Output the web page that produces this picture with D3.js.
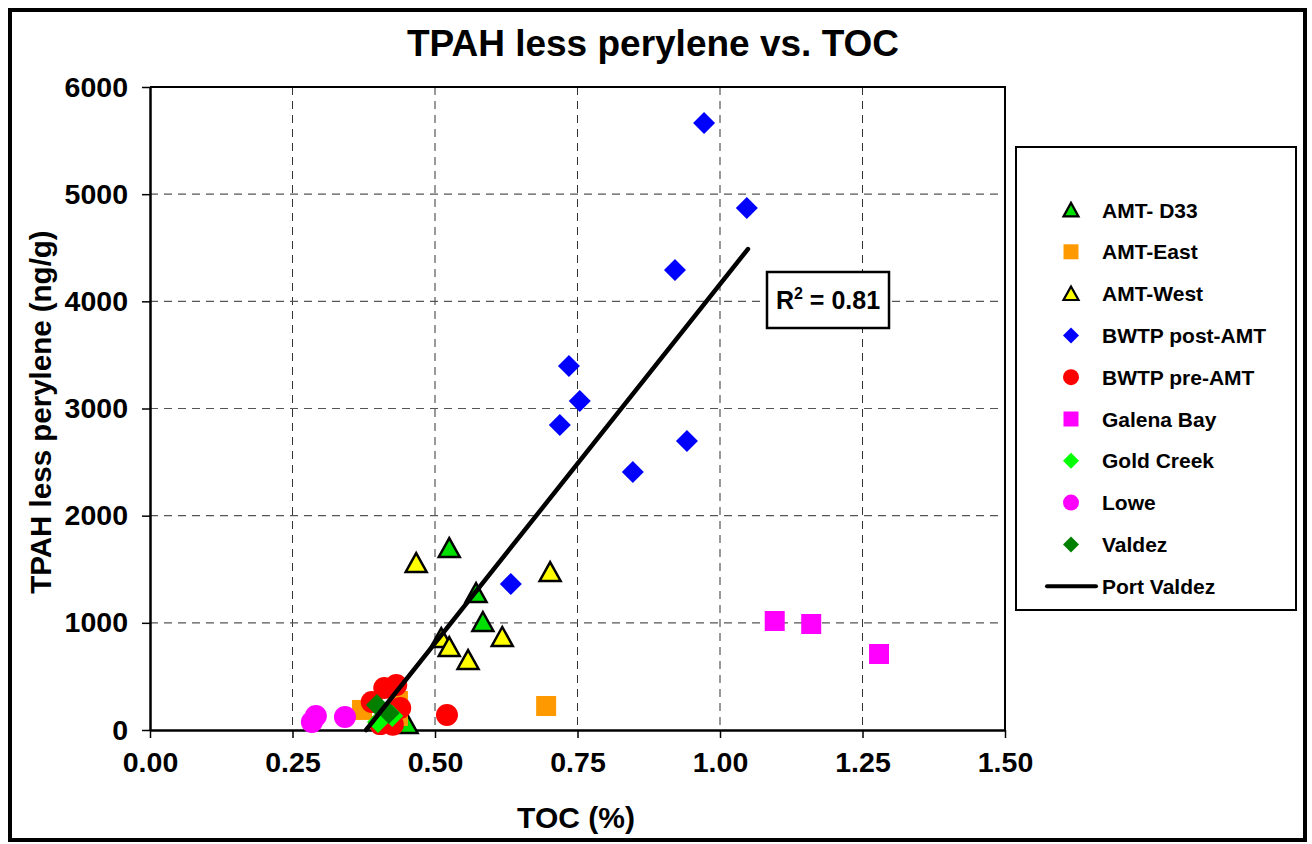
<!DOCTYPE html>
<html>
<head>
<meta charset="utf-8">
<script src="https://cdn.jsdelivr.net/npm/d3@7/dist/d3.min.js"></script>
<style>
  html, body { margin: 0; padding: 0; background: #fff; }
  svg { display: block; font-family: "Liberation Sans", Arial, sans-serif; font-weight: bold; }
</style>
</head>
<body>
<svg id="chart" width="1312" height="844"></svg>
<script>
// TOC (%) and TPAH less perylene (ng/g) for each sampling group
const amtD33Toc   = [0.525, 0.572, 0.584, 0.451];
const amtD33Tpah  = [1698, 1278, 1008, 56];
const amtEastToc  = [0.695, 0.372, 0.435, 0.435];
const amtEastTpah = [224, 187, 271, 131];
const amtWestToc  = [0.467, 0.702, 0.511, 0.525, 0.618, 0.558];
const amtWestTpah = [1558, 1474, 858, 774, 868, 653];
const bwtpPostToc  = [0.972, 1.047, 0.921, 0.735, 0.754, 0.719, 0.942, 0.847, 0.633];
const bwtpPostTpah = [5664, 4871, 4292, 3396, 3070, 2846, 2697, 2407, 1362];
const bwtpPreToc  = [0.411, 0.432, 0.389, 0.439, 0.404, 0.426, 0.521];
const bwtpPreTpah = [392, 420, 261, 205, 55, 50, 140];
const galenaToc  = [1.096, 1.160, 1.279];
const galenaTpah = [1017, 989, 709];
const goldCreekToc  = [0.425, 0.400];
const goldCreekTpah = [131, 75];
const loweToc  = [0.284, 0.291, 0.342];
const loweTpah = [75, 130, 121];
const valdezToc  = [0.398, 0.419];
const valdezTpah = [233, 159];

// Linear trend for all Port Valdez samples
const trendToc  = [0.379, 1.049];
const trendTpah = [0, 4488];
const rSquared = "0.81";

const xTicks = [0, 0.25, 0.5, 0.75, 1.0, 1.25, 1.5];
const yTicks = [0, 1000, 2000, 3000, 4000, 5000, 6000];

const series = [
  { name: "AMT- D33",       toc: amtD33Toc,    tpah: amtD33Tpah,    shape: "triangle", fill: "#00e000", stroke: "#000" },
  { name: "AMT-East",       toc: amtEastToc,   tpah: amtEastTpah,   shape: "square",   fill: "#ff9900", stroke: "none" },
  { name: "AMT-West",       toc: amtWestToc,   tpah: amtWestTpah,   shape: "triangle", fill: "#ffff00", stroke: "#000" },
  { name: "BWTP post-AMT",  toc: bwtpPostToc,  tpah: bwtpPostTpah,  shape: "diamond",  fill: "#0000ff", stroke: "none" },
  { name: "BWTP pre-AMT",   toc: bwtpPreToc,   tpah: bwtpPreTpah,   shape: "circle",   fill: "#ff0000", stroke: "none" },
  { name: "Galena Bay",     toc: galenaToc,    tpah: galenaTpah,    shape: "square",   fill: "#ff00ff", stroke: "none" },
  { name: "Gold Creek",     toc: goldCreekToc, tpah: goldCreekTpah, shape: "diamond",  fill: "#00ff00", stroke: "none" },
  { name: "Lowe",           toc: loweToc,      tpah: loweTpah,      shape: "circle",   fill: "#ff00ff", stroke: "none" },
  { name: "Valdez",         toc: valdezToc,    tpah: valdezTpah,    shape: "diamond",  fill: "#008000", stroke: "none" }
];

// Marker outline paths centred on the origin; s is the nominal width
function markerPath(shape, s) {
  const h = s / 2;
  switch (shape) {
    case "triangle": return `M0,${-h * 0.95}L${h},${h * 0.85}L${-h},${h * 0.85}Z`;
    case "square":   return `M${-h},${-h}H${h}V${h}H${-h}Z`;
    case "diamond":  return `M0,${-h}L${h},0L0,${h}L${-h},0Z`;
    default:
      return `M${h},0A${h},${h} 0 1,1 ${-h},0A${h},${h} 0 1,1 ${h},0Z`;
  }
}
const markerSize = { triangle: 21, square: 20, diamond: 22, circle: 22 };
const legendSize = { triangle: 15, square: 15, diamond: 16, circle: 16 };

const svg = d3.select("#chart");

const plot = { left: 150, right: 1005, top: 87, bottom: 730 };
const x = d3.scaleLinear().domain([0, 1.5]).range([plot.left, plot.right]);
const y = d3.scaleLinear().domain([0, 6000]).range([plot.bottom, plot.top]);

// Outer chart border
svg.append("rect")
  .attr("x", 10).attr("y", 10).attr("width", 1295).attr("height", 830)
  .attr("fill", "#fff").attr("stroke", "#000").attr("stroke-width", 4);

// Title
svg.append("text")
  .attr("x", 653).attr("y", 56)
  .attr("text-anchor", "middle")
  .attr("font-size", 37)
  .text("TPAH less perylene vs. TOC");

// Gridlines
svg.append("g")
  .selectAll("line")
  .data(xTicks.filter(d => d > 0 && d < 1.5))
  .join("line")
  .attr("x1", d => x(d)).attr("x2", d => x(d))
  .attr("y1", plot.top).attr("y2", plot.bottom)
  .attr("stroke", "#333").attr("stroke-width", 1)
  .attr("stroke-dasharray", "8,6");

svg.append("g")
  .selectAll("line")
  .data(yTicks.filter(d => d > 0 && d < 6000))
  .join("line")
  .attr("x1", plot.left).attr("x2", plot.right)
  .attr("y1", d => y(d)).attr("y2", d => y(d))
  .attr("stroke", "#555").attr("stroke-width", 1.2)
  .attr("stroke-dasharray", "8,6");

// Plot frame (top and right edges)
svg.append("path")
  .attr("d", `M${plot.left},${plot.top}H${plot.right}V${plot.bottom}`)
  .attr("fill", "none").attr("stroke", "#000").attr("stroke-width", 2);

// Axes
const xAxis = svg.append("g")
  .attr("transform", `translate(0,${plot.bottom})`)
  .call(d3.axisBottom(x).tickValues(xTicks).tickFormat(d3.format(".2f")).tickSize(8).tickPadding(14));
const yAxis = svg.append("g")
  .attr("transform", `translate(${plot.left},0)`)
  .call(d3.axisLeft(y).tickValues(yTicks).tickFormat(d3.format("d")).tickSize(8).tickPadding(14));

[xAxis, yAxis].forEach(g => {
  g.select(".domain").attr("stroke", "#000").attr("stroke-width", 2.5);
  g.selectAll(".tick line").attr("stroke", "#000").attr("stroke-width", 1.5);
  g.selectAll(".tick text")
    .attr("font-size", 28.5)
    .attr("font-weight", "bold")
    .attr("font-family", "'Liberation Sans', Arial, sans-serif")
    .attr("fill", "#000");
});
xAxis.select(".domain").attr("d", `M${plot.left},0.5H${plot.right}`);
yAxis.select(".domain").attr("d", `M0.5,${plot.bottom}V${plot.top}`);

// Axis titles
svg.append("text")
  .attr("x", 576).attr("y", 828)
  .attr("text-anchor", "middle")
  .attr("font-size", 30)
  .text("TOC (%)");

svg.append("text")
  .attr("transform", "translate(40,412) rotate(-90)")
  .attr("text-anchor", "middle")
  .attr("dominant-baseline", "central")
  .attr("font-size", 29.5)
  .text("TPAH less perylene (ng/g)");

// Data points
series.forEach(s => {
  const pts = s.toc.map((t, i) => ({ toc: t, tpah: s.tpah[i] }));
  svg.append("g")
    .selectAll("path")
    .data(pts)
    .join("path")
    .attr("transform", d => `translate(${x(d.toc)},${y(d.tpah)})`)
    .attr("d", markerPath(s.shape, markerSize[s.shape]))
    .attr("fill", s.fill)
    .attr("stroke", s.stroke)
    .attr("stroke-width", s.stroke === "none" ? 0 : 2.5)
    .attr("stroke-linejoin", "miter");
});

// Trend line
svg.append("path")
  .datum(trendToc.map((t, i) => [t, trendTpah[i]]))
  .attr("d", d3.line().x(d => x(d[0])).y(d => y(d[1])))
  .attr("fill", "none")
  .attr("stroke", "#000")
  .attr("stroke-width", 4.5)
  .attr("stroke-linecap", "round");

// R-squared label
const rBox = svg.append("g").attr("transform", "translate(767,272)");
rBox.append("rect")
  .attr("width", 122).attr("height", 56)
  .attr("fill", "#fff").attr("stroke", "#000").attr("stroke-width", 2.5);
const rText = rBox.append("text")
  .attr("x", 61).attr("y", 37)
  .attr("text-anchor", "middle")
  .attr("font-size", 25);
rText.append("tspan").text("R");
rText.append("tspan").attr("font-size", 16).attr("dy", -10).text("2");
rText.append("tspan").attr("dy", 10).text(" = " + rSquared);

// Legend
const legend = svg.append("g");
legend.append("rect")
  .attr("x", 1016).attr("y", 147).attr("width", 280).attr("height", 463)
  .attr("fill", "#fff").attr("stroke", "#000").attr("stroke-width", 2);

const rowY0 = 210, rowStep = 41.8;
series.forEach((s, i) => {
  const ry = rowY0 + i * rowStep;
  legend.append("path")
    .attr("transform", `translate(1071,${ry})`)
    .attr("d", markerPath(s.shape, legendSize[s.shape]))
    .attr("fill", s.fill)
    .attr("stroke", s.stroke)
    .attr("stroke-width", s.stroke === "none" ? 0 : 2.2);
  legend.append("text")
    .attr("x", 1102).attr("y", ry)
    .attr("dominant-baseline", "central")
    .attr("font-size", 21)
    .text(s.name);
});
const lineY = rowY0 + series.length * rowStep;
legend.append("line")
  .attr("x1", 1047).attr("x2", 1096)
  .attr("y1", lineY).attr("y2", lineY)
  .attr("stroke", "#000").attr("stroke-width", 4).attr("stroke-linecap", "round");
legend.append("text")
  .attr("x", 1102).attr("y", lineY)
  .attr("dominant-baseline", "central")
  .attr("font-size", 21)
  .text("Port Valdez");
</script>
</body>
</html>
